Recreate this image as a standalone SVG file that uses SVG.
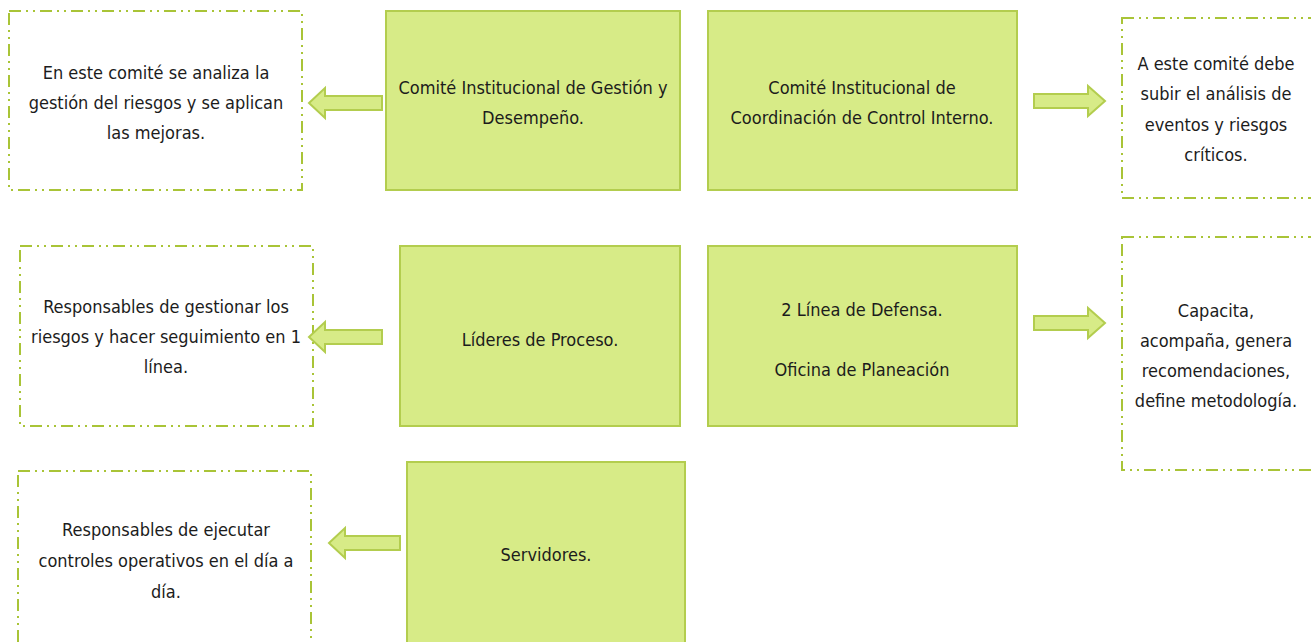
<svg xmlns="http://www.w3.org/2000/svg" width="1311" height="642" viewBox="0 0 1311 642">
<style>
.note{fill:#fff;stroke:#a9c437;stroke-width:2;stroke-dasharray:12 5 2 5 2 5}
.node{fill:#d7eb87;stroke:#b3cd4e;stroke-width:2}
.arrow{fill:#d7eb87;stroke:#b3cd4e;stroke-width:2;stroke-linejoin:miter}
text{font-family:"Liberation Sans Narrow","DejaVu Sans Condensed","Liberation Sans",sans-serif;font-size:18px;fill:#1c1c1c;text-anchor:middle}
</style>
<rect width="1311" height="642" fill="#fff"/>
<g id="note1"><rect class="note" x="9" y="11" width="293" height="179"/>
<text x="156" y="79">En este comité se analiza la</text><text x="156" y="109">gestión del riesgos y se aplican</text><text x="156" y="139">las mejoras.</text></g>
<g id="node1"><rect class="node" x="386" y="11" width="294" height="179"/>
<text x="533" y="94">Comité Institucional de Gestión y</text><text x="533" y="124">Desempeño.</text></g>
<g id="node2"><rect class="node" x="708" y="11" width="309" height="179"/>
<text x="862" y="94">Comité Institucional de</text><text x="862" y="124">Coordinación de Control Interno.</text></g>
<g id="note2"><rect class="note" x="1122" y="18" width="195" height="180"/>
<text x="1216" y="70">A este comité debe</text><text x="1216" y="100">subir el análisis de</text><text x="1216" y="131">eventos y riesgos</text><text x="1216" y="161">críticos.</text></g>
<g id="note3"><rect class="note" x="20" y="246" width="293" height="180"/>
<text x="166" y="313">Responsables de gestionar los</text><text x="166" y="343">riesgos y hacer seguimiento en 1</text><text x="166" y="373">línea.</text></g>
<g id="node3"><rect class="node" x="400" y="246" width="280" height="180"/>
<text x="540" y="346">Líderes de Proceso.</text></g>
<g id="node4"><rect class="node" x="708" y="246" width="309" height="180"/>
<text x="862" y="316">2 Línea de Defensa.</text><text x="862" y="376">Oficina de Planeación</text></g>
<g id="note4"><rect class="note" x="1122" y="237" width="195" height="233"/>
<text x="1216" y="317">Capacita,</text><text x="1216" y="347">acompaña, genera</text><text x="1216" y="377">recomendaciones,</text><text x="1216" y="407">define metodología.</text></g>
<g id="note5"><rect class="note" x="18" y="471" width="293" height="180"/>
<text x="166" y="536">Responsables de ejecutar</text><text x="166" y="567">controles operativos en el día a</text><text x="166" y="598">día.</text></g>
<g id="node5"><rect class="node" x="407" y="462" width="278" height="190"/>
<text x="546" y="561">Servidores.</text></g>
<g id="connectors">
<path class="arrow" d="M382,96 L325,96 L325,88 L309,103 L325,118 L325,110 L382,110 Z"/>
<path class="arrow" d="M382,330 L325,330 L325,322 L309,337 L325,352 L325,344 L382,344 Z"/>
<path class="arrow" d="M400,536 L345,536 L345,528 L329,543 L345,558 L345,550 L400,550 Z"/>
<path class="arrow" d="M1034,94 L1088,94 L1088,86 L1105,101 L1088,116 L1088,108 L1034,108 Z"/>
<path class="arrow" d="M1034,316 L1088,316 L1088,308 L1105,323 L1088,338 L1088,330 L1034,330 Z"/>
</g>
</svg>
